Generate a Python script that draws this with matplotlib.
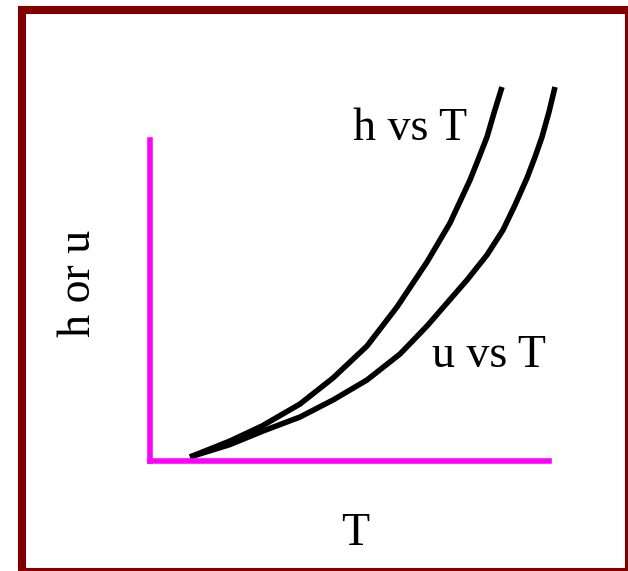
import matplotlib
matplotlib.use("Agg")
import matplotlib.pyplot as plt
from matplotlib.patches import Rectangle

# Data (arbitrary units)
T_h = [0.995, 1.990, 2.786, 3.731, 4.552, 5.398, 6.144, 6.891, 7.463, 7.960,
       8.159, 8.383, 8.557, 8.756]
h_vals = [0.107, 0.535, 0.936, 1.524, 2.219, 3.075, 4.118, 5.321, 6.364, 7.513,
          8.048, 8.663, 9.305, 10.0]
T_u = [0.995, 1.990, 2.811, 3.731, 4.552, 5.398, 6.219, 6.891, 7.388, 7.886,
       8.383, 8.781, 9.080, 9.378, 9.577, 9.751, 9.925, 10.075]
u_vals = [0.107, 0.440, 0.802, 1.176, 1.631, 2.166, 2.861, 3.610, 4.225, 4.840,
          5.510, 6.176, 6.845, 7.567, 8.128, 8.663, 9.332, 10.0]

labels = {"h": "h vs T", "u": "u vs T", "x": "T", "y": "h or u"}

W, H = 628, 571
fig = plt.figure(figsize=(W / 100, H / 100), dpi=100)
fig.patch.set_facecolor("white")

def fx(px):
    return px / W

def fy(py):
    return 1 - py / H

# outer dark red frame
fig.patches.append(Rectangle((fx(22), fy(572)), fx(629) - fx(22), fy(10) - fy(572),
                             transform=fig.transFigure, fill=False,
                             edgecolor="#800000", linewidth=5.8, zorder=0))

ax = fig.add_axes([fx(150), fy(461), fx(552) - fx(150), fy(87) - fy(461)])
ax.set_xlim(0, 10)
ax.set_ylim(0, 10)
ax.patch.set_alpha(0)
ax.set_xticks([])
ax.set_yticks([])
for s in ["top", "right"]:
    ax.spines[s].set_visible(False)
for s in ["left", "bottom"]:
    ax.spines[s].set_color("#ff00ff")
    ax.spines[s].set_linewidth(4)
    ax.spines[s].set_capstyle("projecting")
ax.spines["left"].set_bounds(0, 8.57)
ax.spines["bottom"].set_bounds(0, 9.93)

ax.plot(T_h, h_vals, color="black", lw=4, solid_capstyle="butt",
        solid_joinstyle="round", clip_on=False)
ax.plot(T_u, u_vals, color="black", lw=4, solid_capstyle="butt",
        solid_joinstyle="round", clip_on=False)

font = dict(family="Liberation Serif", fontsize=33, color="black")
fig.text(fx(410), fy(140), labels["h"], ha="center", va="baseline", **font)
fig.text(fx(489), fy(367), labels["u"], ha="center", va="baseline", **font)
fig.text(fx(355), fy(545), labels["x"], ha="center", va="baseline", **font)
fig.text(fx(79), fy(283), labels["y"], ha="center", va="center", rotation=90, **font)

fig.savefig("out.png", dpi=100, facecolor="white")
